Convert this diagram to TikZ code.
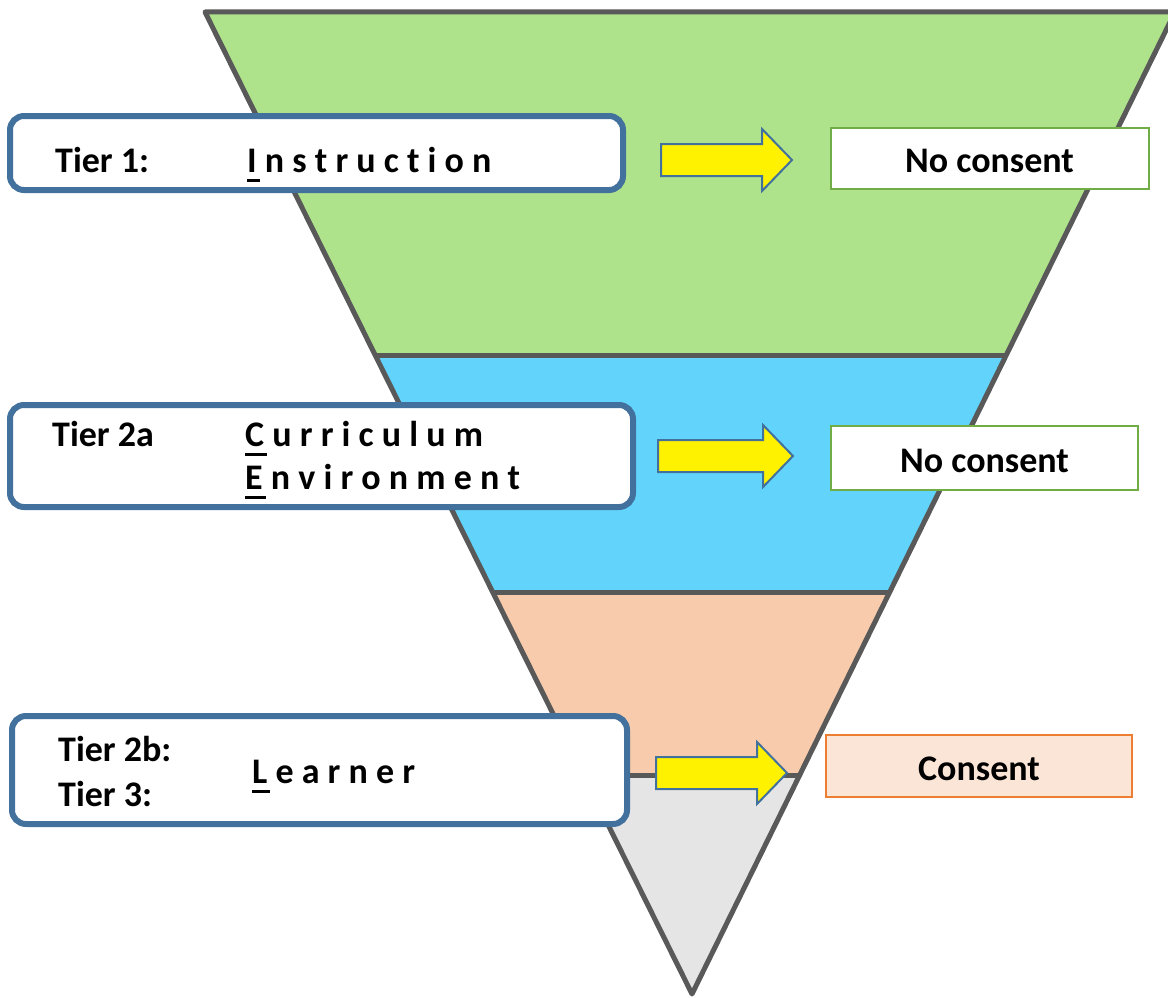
\documentclass[tikz,border=0pt]{standalone}
\usepackage{fontspec}
\setmainfont{Carlito}
\usetikzlibrary{calc}
\definecolor{tgreen}{HTML}{AEE28B}
\definecolor{tblue}{HTML}{62D4FC}
\definecolor{tpeach}{HTML}{F7CBAC}
\definecolor{tgrey}{HTML}{E5E5E5}
\definecolor{tline}{HTML}{595959}
\definecolor{bblue}{HTML}{41719C}
\definecolor{ggreen}{HTML}{70AD47}
\definecolor{oorange}{HTML}{ED7D31}
\definecolor{lpeach}{HTML}{FBE5D6}
\newcommand\ulc[1]{\setbox0\hbox{#1}\rlap{\rule[-10pt]{\dimexpr\wd0+3pt\relax}{3pt}}\box0\relax}
\tikzset{
  band/.style={draw=tline, line width=5pt, line join=round},
  tierbox/.style={draw=bblue, line width=6pt, fill=white, rounded corners=14pt},
  lbl/.style={inner sep=0pt, anchor=base west, font=\fontsize{36}{43}\selectfont\bfseries},
  resbox/.style={draw=ggreen, line width=2pt, fill=white, inner sep=0pt},
  restext/.style={inner sep=0pt, font=\fontsize{36}{43}\selectfont\bfseries},
  yarrow/.style={fill=yellow, draw=bblue, line width=2pt, line join=miter}
}
\newcommand\yarr[4]{% tail x, head start x, tip x, center y
  \draw[yarrow] (#1,#4-16) -- (#2,#4-16) -- (#2,#4-31) -- (#3,#4) -- (#2,#4+31) -- (#2,#4+16) -- (#1,#4+16) -- cycle;}
\begin{document}
\begin{tikzpicture}[x=1pt,y=-1pt]
\useasboundingbox (0,0) rectangle (1168,998);
\clip (0,0) rectangle (1168,998);
\coordinate (TL) at (205,12);
\coordinate (TR) at (1175,12);
\coordinate (A) at (692,994);
\coordinate (L1) at ($(TL)!0.3493!(A)$);
\coordinate (R1) at ($(TR)!0.3493!(A)$);
\coordinate (L2) at ($(TL)!0.5916!(A)$);
\coordinate (R2) at ($(TR)!0.5916!(A)$);
\coordinate (L3) at ($(TL)!0.7770!(A)$);
\coordinate (R3) at ($(TR)!0.7770!(A)$);
\fill[tgreen] (TL) -- (TR) -- (R1) -- (L1) -- cycle;
\fill[tblue] (L1) -- (R1) -- (R2) -- (L2) -- cycle;
\fill[tpeach] (L2) -- (R2) -- (R3) -- (L3) -- cycle;
\fill[tgrey] (L3) -- (R3) -- (A) -- cycle;
\draw[band] (L1) -- (R1);
\draw[band] (L2) -- (R2);
\draw[band] (L3) -- (R3);
\draw[band] (TL) -- (TR) -- (A) -- cycle;

% left tier boxes
\draw[tierbox] (10,116) rectangle (623,190);
\node[lbl] (t1) at (55,172) {Tier 1:};
\node[lbl] (w1) at (247,172) {\ulc{I} n s t r u c t i o n};

\draw[tierbox] (10,405) rectangle (633,507);
\node[lbl] (t2a) at (52,446) {Tier 2a};
\node[lbl] (w2a) at (245,446) {\ulc{C} u r r i c u l u m};
\node[lbl] (w2b) at (245,489) {\ulc{E} n v i r o n m e n t};

\draw[tierbox] (12,716) rectangle (627,824);
\node[lbl] (t2b) at (58,761) {Tier 2b:};
\node[lbl] (t3) at (58,806) {Tier 3:};
\node[lbl] (w3) at (252,783) {\ulc{L} e a r n e r};

% arrows
\yarr{661}{762}{792}{160}
\yarr{658}{763}{793}{456}
\yarr{656}{757}{787}{773}

% result boxes
\node[resbox, minimum width=318pt, minimum height=61pt] (r1) at (989.5,158) {};
\node[restext] (r1t) at ([yshift=-3pt]r1.center) {No consent};
\node[resbox, minimum width=307pt, minimum height=64pt] (r2) at (984.5,458) {};
\node[restext] (r2t) at ([yshift=-3pt]r2.center) {No consent};
\node[resbox, draw=oorange, fill=lpeach, minimum width=306pt, minimum height=62pt] (r3) at (979,766) {};
\node[restext] (r3t) at ([yshift=-3pt]r3.center) {Consent};
\end{tikzpicture}
\end{document}
